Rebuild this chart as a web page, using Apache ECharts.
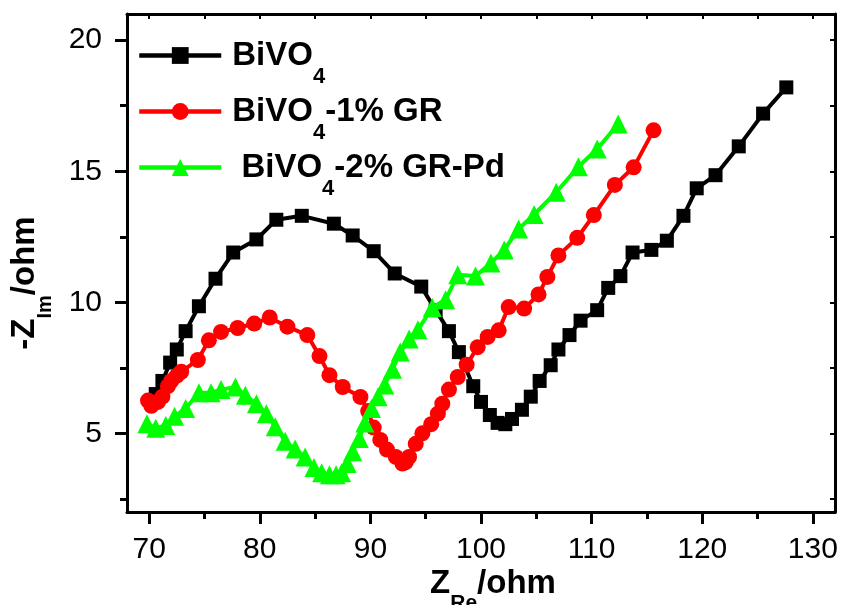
<!DOCTYPE html>
<html><head><meta charset="utf-8">
<script src="https://cdn.jsdelivr.net/npm/echarts@6/dist/echarts.min.js"></script>
<style>html,body{margin:0;padding:0;background:#fff}#c{width:843px;height:605px}</style>
</head><body><div id="c"></div>
<script>
const FONT = "'Liberation Sans', Arial, sans-serif";
const seriesNames = ['BiVO4', 'BiVO4-1% GR', ' BiVO4-2% GR-Pd'];
const xMajor = [70, 80, 90, 100, 110, 120, 130];
const xMinor = [75, 85, 95, 105, 115, 125];
const xAll = [70, 75, 80, 85, 90, 95, 100, 105, 110, 115, 120, 125, 130];
const yMajor = [5, 10, 15, 20];
const yMinor = [2.5, 7.5, 12.5, 17.5];
const yAll = [2.5, 5, 7.5, 10, 12.5, 15, 17.5, 20];

const bivo4 = [[70.6,6.5],[71.2,7.0],[71.9,7.7],[72.5,8.2],[73.3,8.9],[74.5,9.85],[76.0,10.9],[77.6,11.9],[79.7,12.4],[81.5,13.15],[83.8,13.3],[86.7,13.0],[88.4,12.55],[90.3,11.95],[92.2,11.1],[94.6,10.6],[95.9,9.7],[97.1,8.9],[98.0,8.1],[99.3,6.8],[100.0,6.2],[100.8,5.7],[101.5,5.4],[102.2,5.35],[102.8,5.55],[103.7,5.9],[104.5,6.4],[105.3,7.0],[106.3,7.6],[107.0,8.2],[108.0,8.75],[109.0,9.3],[110.5,9.7],[111.5,10.55],[112.6,11.0],[113.7,11.9],[115.4,12.0],[116.8,12.35],[118.3,13.3],[119.5,14.35],[121.2,14.85],[123.3,15.95],[125.5,17.2],[127.6,18.2]];
const bivoGR = [[69.9,6.25],[70.2,6.05],[70.8,6.2],[71.2,6.4],[71.7,6.8],[72.0,7.0],[72.5,7.2],[72.9,7.35],[74.4,7.8],[75.4,8.55],[76.5,8.87],[78.0,9.02],[79.5,9.19],[80.9,9.42],[82.5,9.07],[84.3,8.75],[85.4,7.95],[86.3,7.22],[87.5,6.77],[89.1,6.39],[89.8,5.85],[90.3,5.22],[90.9,4.75],[91.5,4.38],[92.3,4.1],[92.9,3.85],[93.2,3.9],[93.5,4.1],[94.1,4.6],[94.7,5.0],[95.5,5.35],[96.1,5.75],[96.5,6.13],[97.1,6.67],[97.9,7.15],[98.7,7.62],[99.7,8.29],[100.6,8.68],[101.6,8.93],[102.5,9.82],[103.9,9.76],[105.2,10.3],[106.0,10.97],[107.0,11.79],[108.7,12.46],[110.2,13.33],[112.1,14.48],[113.8,15.15],[115.6,16.56]];
const bivoGRPd = [[69.8,5.37],[70.6,5.2],[71.5,5.3],[72.3,5.65],[73.3,5.95],[74.5,6.55],[75.6,6.55],[76.5,6.67],[77.8,6.77],[78.7,6.45],[79.7,6.13],[80.6,5.75],[81.4,5.25],[82.3,4.7],[83.2,4.4],[84.1,4.1],[84.9,3.7],[85.6,3.5],[86.3,3.42],[86.9,3.42],[87.4,3.5],[87.9,3.85],[88.4,4.3],[89.0,4.8],[89.5,5.4],[90.1,5.95],[90.7,6.4],[91.3,6.85],[92.0,7.45],[92.7,8.1],[93.5,8.6],[94.3,8.95],[95.6,9.8],[96.8,10.1],[97.9,11.05],[99.5,11.0],[100.9,11.5],[102.1,12.0],[103.4,12.8],[104.8,13.35],[106.8,14.2],[108.8,15.17],[110.5,15.85],[112.4,16.8]];

const seriesData = [bivo4, bivoGR, bivoGRPd];
const colors = ['#000000', '#ff0000', '#00ff00'];
const symbols = ['rect', 'circle', 'triangle'];
const symbolSizes = [14, 16, 19];

const richText = {
  b: { fontSize: 33, fontWeight: 'bold', fontFamily: FONT, color: '#000' },
  s: { fontSize: 22, fontWeight: 'bold', fontFamily: FONT, color: '#000', padding: [43, 0, 0, 0] }
};
function legendFmt(name) {
  const i = name.indexOf('BiVO4');
  const pre = name.slice(0, i), post = name.slice(i + 5);
  let s = '';
  if (pre) s += '{b|' + pre + '}';
  s += '{b|BiVO}{s|4}';
  if (post) s += '{b|' + post + '}';
  return s;
}

const lineStyleAxis = { color: '#000', width: 3 };
const baseAxis = { min: 68, max: 132, type: 'value', splitLine: { show: false } };
const baseY = { min: 2, max: 21, type: 'value', splitLine: { show: false } };

const option = {
  animation: false,
  backgroundColor: '#fff',
  grid: { left: 127, right: 8, top: 14, bottom: 93 },
  xAxis: [
    Object.assign({}, baseAxis, {
      position: 'bottom',
      axisLine: { show: true, onZero: false, lineStyle: lineStyleAxis },
      axisTick: { show: true, customValues: xMajor, length: 12, lineStyle: { color: '#000', width: 3 } },
      axisLabel: { show: true, customValues: xMajor, fontSize: 30, fontFamily: FONT, color: '#000', margin: 23 }
    }),
    Object.assign({}, baseAxis, {
      position: 'bottom',
      axisLine: { show: false, onZero: false },
      axisTick: { show: true, customValues: xMinor, length: 7, lineStyle: { color: '#000', width: 3 } },
      axisLabel: { show: false }
    }),
    Object.assign({}, baseAxis, {
      position: 'top',
      axisLine: { show: true, onZero: false, lineStyle: lineStyleAxis },
      axisTick: { show: true, inside: true, customValues: xAll, length: 5, lineStyle: { color: '#000', width: 2 } },
      axisLabel: { show: false }
    })
  ],
  yAxis: [
    Object.assign({}, baseY, {
      position: 'left',
      axisLine: { show: true, onZero: false, lineStyle: lineStyleAxis },
      axisTick: { show: true, customValues: yMajor, length: 12, lineStyle: { color: '#000', width: 3 } },
      axisLabel: { show: true, customValues: yMajor, fontSize: 30, fontFamily: FONT, color: '#000', margin: 25 }
    }),
    Object.assign({}, baseY, {
      position: 'left',
      axisLine: { show: false, onZero: false },
      axisTick: { show: true, customValues: yMinor, length: 7, lineStyle: { color: '#000', width: 3 } },
      axisLabel: { show: false }
    }),
    Object.assign({}, baseY, {
      position: 'right',
      axisLine: { show: true, onZero: false, lineStyle: lineStyleAxis },
      axisTick: { show: true, inside: true, customValues: yAll, length: 5, lineStyle: { color: '#000', width: 2 } },
      axisLabel: { show: false }
    })
  ],
  legend: seriesNames.map((name, i) => ({
    data: [name],
    left: 137,
    top: 39 + 56 * i,
    padding: 0,
    orient: 'vertical',
    selectedMode: false,
    itemWidth: 82,
    itemHeight: 21,
    formatter: legendFmt,
    lineStyle: { width: 4.5 },
    textStyle: { rich: richText, padding: [0, 0, 0, 6] }
  })),
  graphic: [
    {
      type: 'text', x: 25, y: 283, rotation: Math.PI / 2,
      style: {
        text: '{b|-Z}{s|Im}{b|/ohm}', align: 'center', verticalAlign: 'middle',
        rich: {
          b: { fontSize: 33, fontWeight: 'bold', fontFamily: FONT, fill: '#000' },
          s: { fontSize: 20, fontWeight: 'bold', fontFamily: FONT, fill: '#000', padding: [40, 0, 0, 0] }
        }
      }
    },
    {
      type: 'text', x: 493, y: 584,
      style: {
        text: '{b|Z}{s|Re}{b|/ohm}', align: 'center', verticalAlign: 'middle',
        rich: {
          b: { fontSize: 33, fontWeight: 'bold', fontFamily: FONT, fill: '#000' },
          s: { fontSize: 21, fontWeight: 'bold', fontFamily: FONT, fill: '#000', padding: [38, 0, 0, 0] }
        }
      }
    }
  ],
  series: seriesNames.map((name, i) => ({
    name: name,
    type: 'line',
    xAxisIndex: 0,
    yAxisIndex: 0,
    data: seriesData[i],
    symbol: symbols[i],
    symbolSize: symbolSizes[i],
    showAllSymbol: true,
    color: colors[i],
    itemStyle: { color: colors[i] },
    lineStyle: { color: colors[i], width: 4 },
    z: 2 + i
  }))
};
const chart = echarts.init(document.getElementById('c'), null, { renderer: 'canvas' });
chart.setOption(option);
</script>
</body></html>
